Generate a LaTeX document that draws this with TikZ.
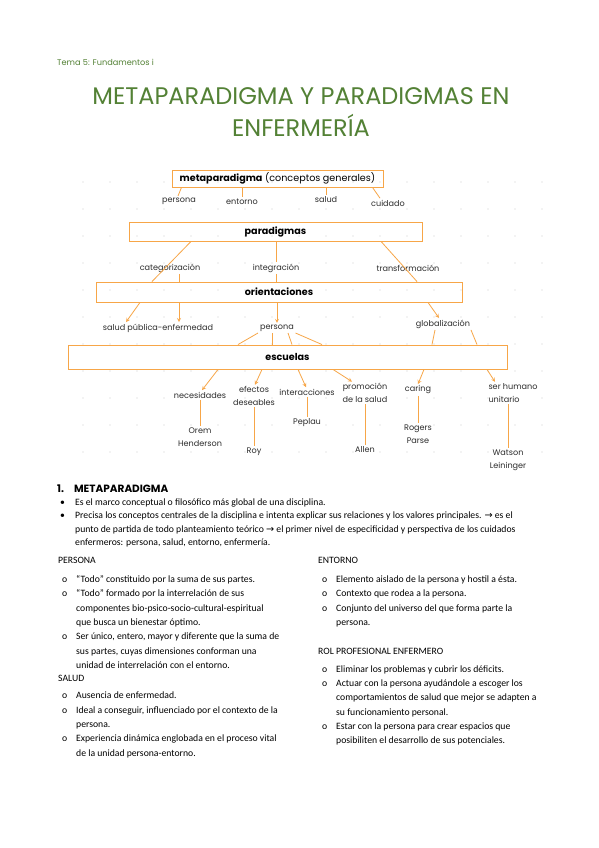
\documentclass[tikz,border=0pt]{standalone}
\usepackage{fontspec}
\setmainfont{Carlito}
\newfontfamily\diagfont{Poppins}
\newfontfamily\arrowfont{DejaVu Sans}
\usepackage{tikz}
\usetikzlibrary{shapes.geometric, arrows}
\definecolor{verdetitulo}{RGB}{83,129,53}
\definecolor{naranja}{RGB}{247,166,72}
\definecolor{gristexto}{RGB}{45,45,45}
\tikzstyle{caja} = [rectangle, draw=naranja, line width=0.9pt, inner sep=0pt, text=black, font=\diagfont\fontsize{9.6}{11}\selectfont]
\tikzstyle{etiqueta} = [font=\diagfont\fontsize{8.1}{12.8}\selectfont, text=gristexto, inner sep=1.5pt, align=center]
\tikzstyle{linea} = [naranja, line width=0.8pt]
\tikzstyle{flecha} = [naranja, line width=0.8pt, ->, >=stealth]
\tikzstyle{punto} = [fill=black!20]
\tikzstyle{cuerpo} = [anchor=north west, inner sep=0pt, text=black]

\begin{document}
\begin{tikzpicture}[x=1pt, y=-1pt]
                \useasboundingbox (0,0) rectangle (599,848);
                \fill [white] (0,0) rectangle (599,848);

% ---------------------------------------------
% Titles
% ---------------------------------------------
                \node (tema) [anchor=west, inner sep=0pt, text=verdetitulo, font=\diagfont\fontsize{8.2}{9}\selectfont] at (57,62) {Tema 5: Fundamentos i};
                \node (titulo) [align=center, inner sep=0pt, text=verdetitulo, font=\diagfont\fontsize{24}{32}\selectfont] at (301,112) {METAPARADIGMA Y PARADIGMAS EN\\ENFERMERÍA};

% ---------------------------------------------
% Dot grid behind the map
% ---------------------------------------------
                \foreach \i in {0,...,17} {
                    \foreach \j in {0,...,10} {
                        \fill [punto] ({83+27*\i},{182+27*\j}) circle (0.6pt);
                    }
                }

% ---------------------------------------------
% Boxes and labels
% ---------------------------------------------
                \node (meta) [caja, minimum width=211pt, minimum height=17pt] at (277.5,178.5) {\textbf{metaparadigma} (conceptos generales)};
                \node (persona) [etiqueta] at (179,201) {persona};
                \node (entorno) [etiqueta] at (242,202) {entorno};
                \node (salud) [etiqueta] at (326,200) {salud};
                \node (cuidado) [etiqueta] at (388,203) {cuidado};

                \node (paradigmas) [caja, minimum width=293pt, minimum height=19pt] at (275.5,232) {\textbf{paradigmas}};
                \node (categorizacion) [etiqueta] at (170,268) {categorización};
                \node (integracion) [etiqueta] at (276,268) {integración};
                \node (transformacion) [etiqueta] at (408,268) {transformación};

                \node (orientaciones) [caja, minimum width=366pt, minimum height=20pt] at (279,292) {\textbf{orientaciones}};
                \node (saludpublica) [etiqueta] at (158,328) {salud pública-enfermedad};
                \node (personaor) [etiqueta] at (277,328) {persona};
                \node (globalizacion) [etiqueta] at (443,324) {globalización};

                \node (escuelas) [caja, minimum width=439pt, minimum height=24pt] at (287.5,357) {\textbf{escuelas}};
                \node (necesidades) [etiqueta] at (200,395) {necesidades};
                \node (efectos) [etiqueta] at (254,396) {efectos\\deseables};
                \node (interacciones) [etiqueta] at (307,392) {interacciones};
                \node (promocion) [etiqueta] at (365,393) {promoción\\de la salud};
                \node (caring) [etiqueta] at (418,390) {caring};
                \node (serhumano) [etiqueta, align=left] at (513,393) {ser humano\\unitario};

                \node (orem) [etiqueta, below of=necesidades, node distance=42pt] {Orem\\Henderson};
                \node (roy) [etiqueta, below of=efectos, node distance=56pt] {Roy};
                \node (peplau) [etiqueta, below of=interacciones, node distance=31pt] {Peplau};
                \node (allen) [etiqueta, below of=promocion, node distance=57pt] {Allen};
                \node (rogers) [etiqueta, below of=caring, node distance=44pt] {Rogers\\Parse};
                \node (watson) [etiqueta, below of=serhumano, node distance=67pt, xshift=-5pt] {Watson\\Leininger};

% ---------------------------------------------
% Connectors
% ---------------------------------------------
                \draw [linea] ([xshift=-96pt]meta.south) -- ([xshift=-1pt]persona.north);
                \draw [linea] (meta.south -| entorno) -- (entorno.north);
                \draw [linea] (meta.south -| salud) -- (salud.north);
                \draw [linea] ([xshift=95pt]meta.south) -- ([xshift=-8pt]cuidado.north);

                \draw [linea] ([xshift=-85pt]paradigmas.south) -- ([xshift=-127pt]orientaciones.north);
                \coordinate (cat) at ([xshift=9pt]categorizacion.south);
                \draw [linea] (cat) -- (cat |- orientaciones.north);
                \draw [linea] (paradigmas.south -| integracion) -- (integracion.north);
                \draw [linea] (integracion.south) -- (integracion.south |- orientaciones.north);
                \draw [linea] ([xshift=106pt]paradigmas.south) -- ([xshift=138pt]orientaciones.north);

                \draw [flecha] ([xshift=-139pt]orientaciones.south) -- ([xshift=-32pt]saludpublica.north);
                \coordinate (sp) at ([xshift=-100pt]orientaciones.south);
                \draw [flecha] (sp) -- (sp |- saludpublica.north);
                \draw [flecha] (orientaciones.south -| personaor) -- (personaor.north);
                \draw [flecha] ([xshift=149pt]orientaciones.south) -- ([xshift=-4pt]globalizacion.north);

                \draw [linea] ([xshift=-19pt]personaor.south) -- ([xshift=-49.5pt]escuelas.north);
                \coordinate (pv) at ([xshift=-5pt]personaor.south);
                \draw [linea] (pv) -- (pv |- escuelas.north);
                \draw [linea] ([xshift=11pt]personaor.south) -- ([xshift=4.5pt]escuelas.north);
                \draw [linea] (personaor.south east) -- ([xshift=34.5pt]escuelas.north);
                \draw [linea] ([xshift=-8pt]globalizacion.south) -- ([xshift=144.5pt]escuelas.north);
                \draw [linea] ([xshift=28pt]globalizacion.south) -- ([xshift=189.5pt]escuelas.north);

                \draw [flecha] ([xshift=-69.5pt]escuelas.south) -- ([xshift=2pt]necesidades.north);
                \draw [flecha] ([xshift=-25.5pt]escuelas.south) -- ([xshift=1pt]efectos.north);
                \draw [flecha] ([xshift=10.5pt]escuelas.south) -- ([xshift=-1pt]interacciones.north);
                \draw [flecha] ([xshift=45.5pt]escuelas.south) -- ([xshift=-13pt]promocion.north);
                \draw [flecha] ([xshift=136.5pt]escuelas.south) -- (caring.north);
                \draw [flecha] ([xshift=199.5pt]escuelas.south) -- ([xshift=-18pt]serhumano.north);

                \draw [linea] (necesidades) -- (orem);
                \draw [linea] (efectos) -- (roy);
                \draw [linea] (interacciones) -- (peplau);
                \draw [linea] (promocion) -- (allen);
                \draw [linea] (caring) -- (rogers);
                \draw [linea] ([xshift=-5pt]serhumano.south) -- (watson);

% ---------------------------------------------
% Text below the map
% ---------------------------------------------
                \node (seccion) [anchor=west, inner sep=0pt, font=\diagfont\bfseries\fontsize{10.5}{12}\selectfont] at (57,489) {1.\hspace{10pt}METAPARADIGMA};

                \node (intro) [cuerpo, font=\fontsize{9.7}{13.4}\selectfont] at (58,496) {\begin{tabular}{@{\hspace{2pt}}p{15pt}@{}l@{}}
                    \textbullet & Es el marco conceptual o filosófico más global de una disciplina.\\
                    \textbullet & Precisa los conceptos centrales de la disciplina e intenta explicar sus relaciones y los valores principales. {\arrowfont →} es el\\
                    & punto de partida de todo planteamiento teórico {\arrowfont →} el primer nivel de especificidad y perspectiva de los cuidados\\
                    & enfermeros: persona, salud, entorno, enfermería.
                \end{tabular}};

                \node (izquierda) [cuerpo, font=\fontsize{9.7}{14.3}\selectfont] at (58,553.5) {\begin{tabular}{@{\hspace{4pt}}p{14pt}@{}l@{}}
                    \multicolumn{2}{@{}l}{PERSONA}\\[4.5pt]
                    o & “Todo” constituido por la suma de sus partes.\\
                    o & “Todo” formado por la interrelación de sus\\
                    & componentes bio-psico-socio-cultural-espiritual\\
                    & que busca un bienestar óptimo.\\
                    o & Ser único, entero, mayor y diferente que la suma de\\
                    & sus partes, cuyas dimensiones conforman una\\
                    & unidad de interrelación con el entorno.\\[-1pt]
                    \multicolumn{2}{@{}l}{SALUD}\\[3pt]
                    o & Ausencia de enfermedad.\\
                    o & Ideal a conseguir, influenciado por el contexto de la\\
                    & persona.\\
                    o & Experiencia dinámica englobada en el proceso vital\\
                    & de la unidad persona-entorno.
                \end{tabular}};

                \node (derecha) [cuerpo, font=\fontsize{9.7}{14.3}\selectfont] at (318,553.5) {\begin{tabular}{@{\hspace{4pt}}p{14pt}@{}l@{}}
                    \multicolumn{2}{@{}l}{ENTORNO}\\[4.5pt]
                    o & Elemento aislado de la persona y hostil a ésta.\\
                    o & Contexto que rodea a la persona.\\
                    o & Conjunto del universo del que forma parte la\\
                    & persona.\\
                    & \\
                    \multicolumn{2}{@{}l}{ROL PROFESIONAL ENFERMERO}\\[4pt]
                    o & Eliminar los problemas y cubrir los déficits.\\
                    o & Actuar con la persona ayudándole a escoger los\\
                    & comportamientos de salud que mejor se adapten a\\
                    & su funcionamiento personal.\\
                    o & Estar con la persona para crear espacios que\\
                    & posibiliten el desarrollo de sus potenciales.
                \end{tabular}};

            \end{tikzpicture}
\end{document}
